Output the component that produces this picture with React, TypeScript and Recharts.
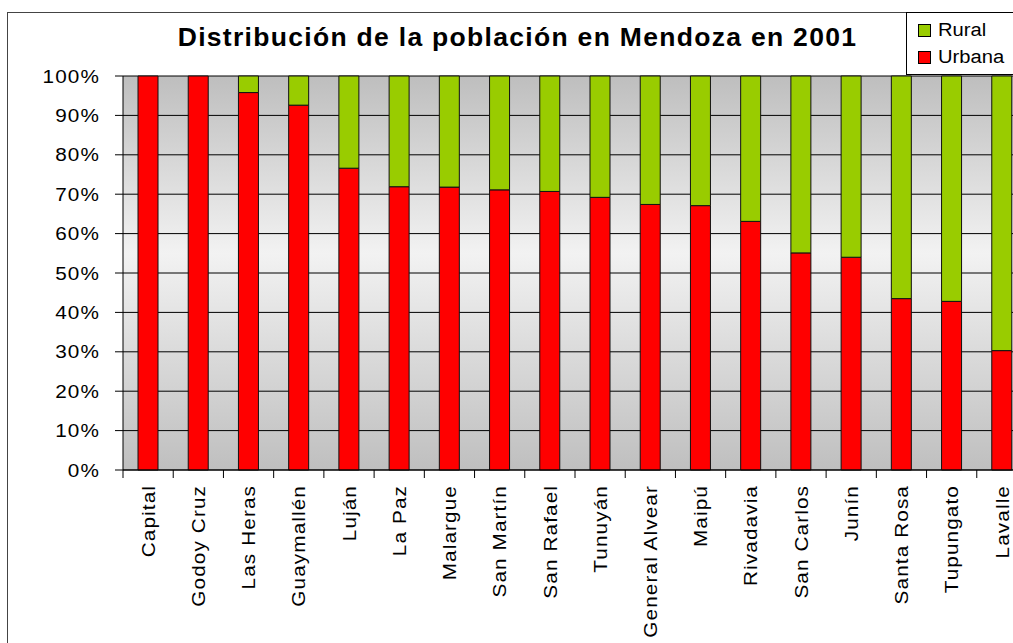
import { BarChart, Bar, XAxis, YAxis, CartesianGrid, Legend } from 'recharts';

const CATEGORIES = [
  'Capital', 'Godoy Cruz', 'Las Heras', 'Guaymallén', 'Luján', 'La Paz', 'Malargue', 'San Martín', 'San Rafael',
  'Tunuyán', 'General Alvear', 'Maipú', 'Rivadavia', 'San Carlos', 'Junín', 'Santa Rosa', 'Tupungato', 'Lavalle',
];
const URBANA = [100, 100, 95.8, 92.6, 76.6, 71.9, 71.8, 71.1, 70.7, 69.2, 67.4, 67.1, 63.1, 55.1, 54.0, 43.5, 42.8, 30.3];
const RURAL = [0, 0, 4.2, 7.4, 23.4, 28.1, 28.2, 28.9, 29.3, 30.8, 32.6, 32.9, 36.9, 44.9, 46.0, 56.5, 57.2, 69.7];
const Y_TICKS = [0, 10, 20, 30, 40, 50, 60, 70, 80, 90, 100];
const LEGEND_ORDER = ['Rural', 'Urbana'];

const FONT = "Arial, 'Liberation Sans', sans-serif";
const CHART_W = 1040;
const PLOT_LEFT = 123;
const PLOT_RIGHT = 1027;
const BAND = (PLOT_RIGHT - PLOT_LEFT) / CATEGORIES.length;

const data = CATEGORIES.map((name, i) => ({ name, urbana: URBANA[i], rural: RURAL[i] }));

function XTick(props: any) {
  const { x, y, payload } = props;
  return (
    <g>
      <line x1={x - BAND / 2} x2={x - BAND / 2} y1={y} y2={y + 8} stroke="#000" />
      <g transform={`translate(${x},${y + 15}) rotate(-90) scale(1.12,1)`}>
        <text textAnchor="end" dy="0.36em" fontSize={18.5} letterSpacing={1} fill="#000" fontFamily={FONT}>
          {payload.value}
        </text>
      </g>
    </g>
  );
}

function YTick(props: any) {
  const { x, y, payload } = props;
  return (
    <g transform={`translate(${x},${y}) scale(1.12,1)`}>
      <text textAnchor="end" dy="0.36em" fontSize={18.5} letterSpacing={1} fill="#000" fontFamily={FONT}>
        {payload.value}%
      </text>
    </g>
  );
}

function LegendBox(props: any) {
  const items = [...(props.payload || [])].sort(
    (a: any, b: any) => LEGEND_ORDER.indexOf(a.value) - LEGEND_ORDER.indexOf(b.value)
  );
  return (
    <div
      style={{
        background: '#fff', border: '1px solid #000', borderRight: 'none', boxSizing: 'border-box',
        width: 140, height: 63, paddingTop: 4, paddingLeft: 11, fontFamily: FONT,
      }}
    >
      {items.map((it: any) => (
        <div key={it.value} style={{ display: 'flex', alignItems: 'center', height: 27 }}>
          <span style={{ width: 11, height: 11, background: it.color, border: '1px solid #000', marginRight: 7 }} />
          <span style={{ fontSize: 18, display: 'inline-block', transform: 'scaleX(1.12)', transformOrigin: 'left', color: '#000' }}>
            {it.value}
          </span>
        </div>
      ))}
    </div>
  );
}

export default function App() {
  return (
    <div style={{ position: 'fixed', left: 0, top: 0, width: 1013, height: 643, overflow: 'hidden', background: '#fff' }}>
      <div style={{ position: 'absolute', left: 7, top: 12, width: 1100, height: 700, borderLeft: '1px solid #444', borderTop: '1px solid #444' }} />
      <div
        style={{
          position: 'absolute', left: 0, top: 23.5, width: 1035, textAlign: 'center', fontFamily: FONT,
          fontWeight: 'bold', fontSize: 26.5, lineHeight: '26.5px', letterSpacing: 1.3, color: '#000',
        }}
      >
        Distribución de la población en Mendoza en 2001
      </div>
      <div style={{ position: 'absolute', left: 0, top: 0 }}>
        <BarChart width={CHART_W} height={643} data={data} margin={{ top: 76, right: CHART_W - PLOT_RIGHT, bottom: 0, left: 0 }} barSize={20}>
          <defs>
            <linearGradient id="bgGrad" x1="0" y1="0" x2="0" y2="1">
              <stop offset="0" stopColor="#bebebe" />
              <stop offset="0.45" stopColor="#f2f2f2" />
              <stop offset="1" stopColor="#bfbfbf" />
            </linearGradient>
          </defs>
          <CartesianGrid vertical={false} stroke="#000" fill="url(#bgGrad)" fillOpacity={1} />
          <XAxis
            dataKey="name"
            interval={0}
            height={643 - 470}
            tickLine={false}
            tickSize={0}
            tickMargin={0}
            axisLine={{ stroke: '#000' }}
            tick={<XTick />}
          />
          <YAxis
            width={PLOT_LEFT}
            domain={[0, 100]}
            ticks={Y_TICKS}
            interval={0}
            tickSize={8}
            tickMargin={15}
            tickLine={{ stroke: '#000' }}
            axisLine={{ stroke: '#000' }}
            tick={<YTick />}
          />
          <Legend
            layout="vertical"
            align="center"
            verticalAlign="middle"
            content={<LegendBox />}
            wrapperStyle={{ left: 906, top: 12, width: 140, height: 63 }}
          />
          <Bar dataKey="urbana" name="Urbana" stackId="a" fill="#ff0000" stroke="#111" strokeWidth={1} isAnimationActive={false} />
          <Bar dataKey="rural" name="Rural" stackId="a" fill="#99cc00" stroke="#111" strokeWidth={1} isAnimationActive={false} />
        </BarChart>
      </div>
    </div>
  );
}
